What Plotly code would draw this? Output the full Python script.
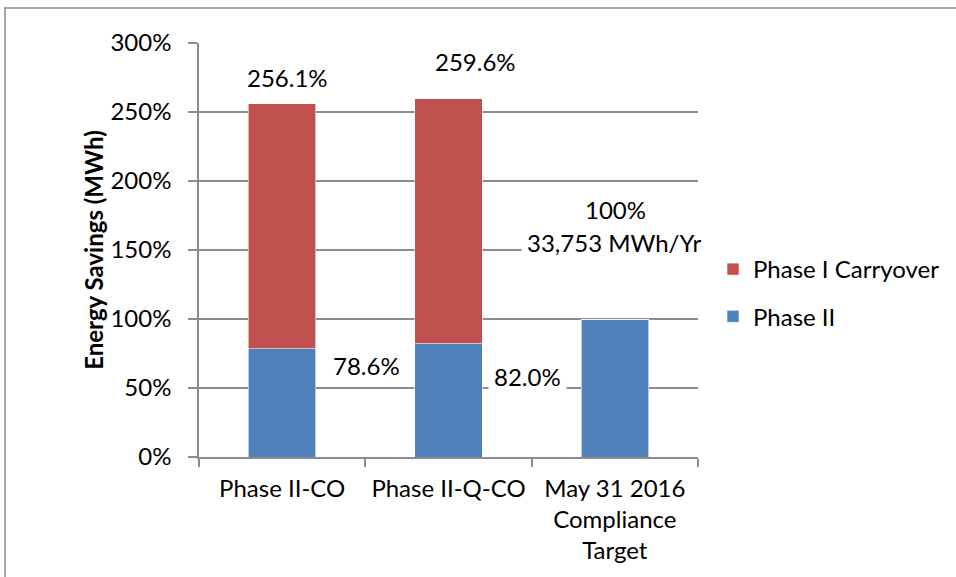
import plotly.graph_objects as go

categories = ["Phase II-CO", "Phase II-Q-CO", "May 31 2016<br>Compliance<br>Target"]
phase2 = [78.6, 82.0, 100.0]
carryover = [177.5, 177.6, 0.0]
totals = [256.1, 259.6, 100.0]
target_mwh = "33,753 MWh/Yr"
y_ticks = [0, 50, 100, 150, 200, 250, 300]
y_ticktext = [f"{v}%" for v in y_ticks]

FONT = "Lato"
FS = 24
BLUE = "#4F81BD"
RED = "#C0504D"
GRID = "#8C8C8C"

fig = go.Figure()
fig.add_trace(go.Bar(x=categories, y=phase2, name="Phase II",
                     marker=dict(color=BLUE, line=dict(color="white", width=0.6)),
                     legendgroup="a", legendrank=2, hoverinfo="skip"))
fig.add_trace(go.Bar(x=categories, y=carryover, name="Phase I Carryover",
                     marker=dict(color=RED, line=dict(color="white", width=0.6)),
                     legendgroup="b", legendrank=1, hoverinfo="skip"))

tfont = dict(family=FONT, size=FS, color="black")
ann = []
ann.append(dict(x=0, y=totals[0], text=f"{totals[0]:.1f}%", xshift=5, yshift=26))
ann.append(dict(x=1, y=totals[1], text=f"{totals[1]:.1f}%", xshift=27, yshift=37))
ann.append(dict(x=0.5, y=phase2[0], text=f"{phase2[0]:.1f}%", xshift=1, yshift=-17))
ann.append(dict(x=1.5, y=phase2[1], text=f"{phase2[1]:.1f}%", xshift=-4, yshift=-33))
ann.append(dict(x=2, y=phase2[2], text=f"{phase2[2]:.0f}%", xshift=1, yshift=110))
ann.append(dict(x=2, y=phase2[2], text=target_mwh, xshift=0, yshift=77))
annotations = []
for a in ann:
    a.update(xref="x", yref="y", showarrow=False, font=tfont, bgcolor="white",
             borderpad=5, xanchor="center", yanchor="middle")
    annotations.append(a)

L, R, T, B = 199, 258, 43, 120
W, H = 956, 577
pw = W - L - R
ph = H - T - B

def px(x):
    return (x - L) / pw

def py(y):
    return (H - B - y) / ph

fig.update_layout(
    width=W, height=H,
    margin=dict(l=L, r=R, t=T, b=B, autoexpand=False),
    paper_bgcolor="white", plot_bgcolor="white",
    barmode="stack", bargap=0.595,
    font=dict(family=FONT, size=FS, color="black"),
    annotations=annotations,
    showlegend=True,
    legend=dict(x=px(713), y=py(247), xanchor="left", yanchor="top",
                font=dict(family=FONT, size=FS, color="black"),
                tracegroupgap=13, traceorder="grouped", bgcolor="rgba(0,0,0,0)"),
    xaxis=dict(type="category", range=[-0.5, 2.5],
               showline=True, linecolor=GRID, linewidth=1.5, ticks="outside", tickson="boundaries",
               ticklen=8, tickcolor=GRID, tickwidth=1.5, showgrid=False, fixedrange=True,
               ticklabelstandoff=9,
               tickfont=dict(family=FONT, size=FS, color="black")),
    yaxis=dict(range=[0, 300], tickmode="array", tickvals=y_ticks, ticktext=y_ticktext,
               showline=True, linecolor=GRID,
               linewidth=1.5, ticks="outside", ticklen=9, tickcolor=GRID, tickwidth=1.5,
               showgrid=True, gridcolor=GRID, gridwidth=1.5, zeroline=False, ticklabelstandoff=12,
               fixedrange=True,
               tickfont=dict(family=FONT, size=FS, color="black")),
    shapes=[dict(type="rect", xref="paper", yref="paper", x0=px(5), y0=py(700), x1=px(1100), y1=py(8),
                 line=dict(color=GRID, width=1.5), fillcolor="rgba(0,0,0,0)", layer="below")],
)
fig.update_yaxes(title=dict(text="<b>Energy Savings (MWh)</b>", standoff=0,
                            font=dict(family=FONT, size=FS, color="black")))

fig.write_html("out.html", config={"displayModeBar": False},
               post_script="document.body.style.margin='0';document.body.style.overflow='hidden';")
